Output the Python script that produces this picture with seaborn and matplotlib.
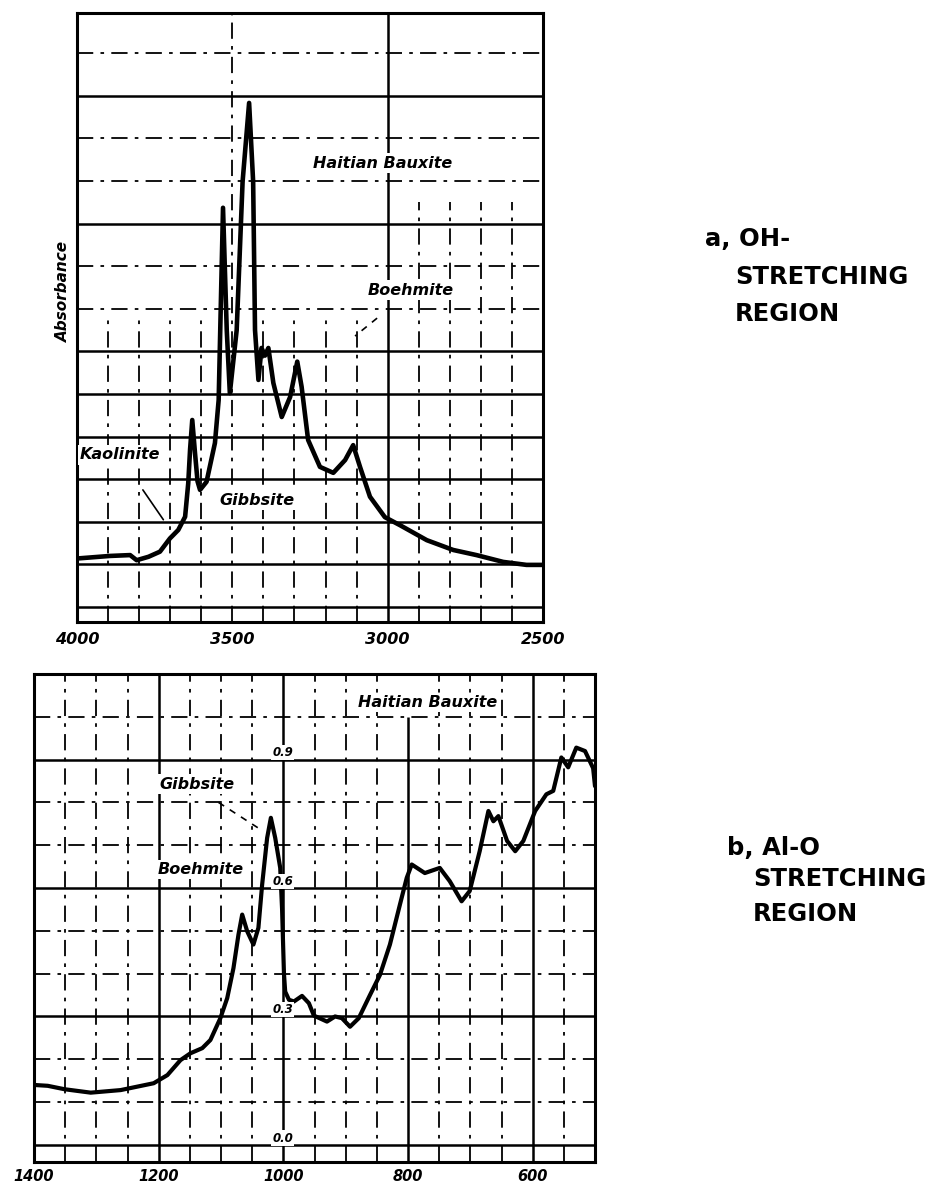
import matplotlib
matplotlib.use("Agg")
import matplotlib.pyplot as plt
from matplotlib import font_manager
import numpy as np
import pandas as pd
import seaborn as sns

# ---- OH-stretching region: wavenumber (cm-1) and absorbance ----
wn_oh = [4000, 3894, 3829, 3808, 3770, 3733, 3701, 3674, 3652, 3642, 3636,
         3629, 3620, 3612, 3604, 3583, 3556, 3544, 3538, 3530, 3518, 3508,
         3486, 3467, 3446, 3433, 3427, 3416, 3406, 3395, 3384, 3368, 3341,
         3314, 3291, 3277, 3256, 3218, 3175, 3137, 3111, 3089, 3057, 3009,
         2960, 2874, 2789, 2714, 2628, 2553, 2500]
abs_oh = [0.114, 0.120, 0.122, 0.110, 0.118, 0.130, 0.161, 0.181, 0.212, 0.290, 0.370,
          0.439, 0.360, 0.295, 0.275, 0.294, 0.385, 0.486, 0.680, 0.937, 0.650, 0.502,
          0.650, 0.998, 1.183, 0.998, 0.650, 0.533, 0.608, 0.590, 0.608, 0.526, 0.446,
          0.493, 0.576, 0.517, 0.392, 0.329, 0.315, 0.345, 0.380, 0.329, 0.259, 0.211,
          0.192, 0.157, 0.134, 0.122, 0.106, 0.099, 0.099]

# ---- Al-O stretching region ----
wn_alo = [1400, 1378, 1351, 1309, 1261, 1208, 1186, 1165, 1149, 1130, 1117,
          1101, 1090, 1080, 1072, 1066, 1058, 1048, 1040, 1034, 1026, 1020,
          1013, 1005, 1002, 999, 997, 991, 983, 970, 959, 951, 930, 917, 906,
          893, 879, 861, 845, 829, 813, 802, 794, 773, 749, 733, 714, 701,
          685, 671, 663, 655, 641, 628, 615, 596, 578, 567, 554, 543, 530,
          516, 503, 500]
abs_alo = [0.140, 0.138, 0.130, 0.122, 0.128, 0.144, 0.163, 0.198, 0.214, 0.226, 0.245,
           0.296, 0.343, 0.413, 0.491, 0.538, 0.499, 0.468, 0.507, 0.608, 0.717, 0.764,
           0.717, 0.647, 0.550, 0.400, 0.358, 0.339, 0.335, 0.348, 0.331, 0.302, 0.288,
           0.300, 0.296, 0.276, 0.296, 0.350, 0.397, 0.468, 0.561, 0.624, 0.655, 0.635,
           0.647, 0.616, 0.569, 0.593, 0.686, 0.780, 0.756, 0.768, 0.710, 0.686, 0.710,
           0.780, 0.819, 0.827, 0.905, 0.882, 0.928, 0.920, 0.880, 0.838]

oh_ticks = [4000, 3500, 3000, 2500]
alo_ticks = [1400, 1200, 1000, 800, 600]
alo_scale_values = [0.0, 0.3, 0.6, 0.9]
alo_scale_text = ["0.0", "0.3", "0.6", "0.9"]

sns.set_style("white")
plt.rcParams["font.family"] = ["DejaVu Sans"]
plt.rcParams["text.color"] = "black"
plt.rcParams["xtick.color"] = "black"
plt.rcParams["xtick.labelcolor"] = "black"
plt.rcParams["axes.edgecolor"] = "black"

installed = {f.name for f in font_manager.fontManager.ttflist}
num_font = "Liberation Sans Narrow" if "Liberation Sans Narrow" in installed else "DejaVu Sans"
num_size_top = 16 if num_font != "DejaVu Sans" else 11.5
num_size_bot = 14 if num_font != "DejaVu Sans" else 10.5

W, H = 935, 1192
fig = plt.figure(figsize=(W / 100, H / 100), dpi=100)
fig.patch.set_facecolor("white")

def px_axes(x0, y0, x1, y1):
    return fig.add_axes([x0 / W, 1 - y1 / H, (x1 - x0) / W, (y1 - y0) / H])

ax1 = px_axes(77, 13, 543, 622)
ax2 = px_axes(34, 674, 595, 1162)

SOLID = dict(color="black", lw=1.8, ls="-", zorder=1)
DASH = dict(color="black", lw=1.3, ls=(0, (9, 4, 2, 4)), zorder=1)

# ---------------- panel a ----------------
ax1.set_xlim(4000, 2500)
ax1.set_ylim(-0.035, 1.394)
for k in range(14):
    y = k / 10
    style = SOLID if (k <= 6 or k in (9, 12)) else DASH
    ax1.axhline(y, **style)
for w in range(2600, 4000, 100):
    if w == 3000:
        ax1.axvline(w, **SOLID)
    elif w == 3500:
        ax1.axvline(w, **DASH)
    elif w < 3000:
        ax1.vlines(w, -0.035, 0.95, **DASH)
    else:
        ax1.vlines(w, -0.035, 0.68, **DASH)

df_oh = pd.DataFrame({"wavenumber": wn_oh, "absorbance": abs_oh})
sns.lineplot(data=df_oh, x="wavenumber", y="absorbance", ax=ax1, color="black",
             linewidth=3.3, estimator=None, sort=False, zorder=3,
             solid_joinstyle="round", solid_capstyle="round")

lab = dict(fontsize=11.5, fontweight="bold", fontstyle="italic", ha="center", va="center",
           color="black", zorder=4, bbox=dict(facecolor="white", edgecolor="none", pad=1.5))
ax1.text(3015, 1.042, "Haitian Bauxite", **lab)
ax1.text(2925, 0.744, "Boehmite", **lab)
ax1.text(3862, 0.357, "Kaolinite", **lab)
ax1.text(3421, 0.251, "Gibbsite", **lab)
ax1.plot([3788, 3722], [0.275, 0.205], color="black", lw=1.2, zorder=4)
ax1.plot([3034, 3105], [0.678, 0.636], color="black", lw=1.2, ls=(0, (4, 4)), zorder=4)

ax1.text(-0.012, 0.542, "Absorbance", rotation=90, transform=ax1.transAxes,
         ha="right", va="center", fontsize=11, fontweight="bold", fontstyle="italic",
         color="black")

ax1.set_xticks(oh_ticks)
ax1.set_xticklabels([str(t) for t in oh_ticks], family=num_font, fontsize=num_size_top,
                    fontweight="bold", fontstyle="italic", color="black")
ax1.set_yticks([])
ax1.tick_params(axis="x", length=0, pad=7)
ax1.set_xlabel("")
ax1.set_ylabel("")

# ---------------- panel b ----------------
ax2.set_xlim(1400, 500)
ax2.set_ylim(-0.04, 1.10)
for k in range(11):
    y = k / 10
    ax2.axhline(y, **(SOLID if k % 3 == 0 else DASH))
for w in range(550, 1400, 50):
    if w in (1200, 1000, 600):
        ax2.axvline(w, **SOLID)
    elif w == 800:
        ax2.vlines(w, -0.04, 1.0, **SOLID)
    else:
        ax2.axvline(w, **DASH)

df_alo = pd.DataFrame({"wavenumber": wn_alo, "absorbance": abs_alo})
sns.lineplot(data=df_alo, x="wavenumber", y="absorbance", ax=ax2, color="black",
             linewidth=3.0, estimator=None, sort=False, zorder=3,
             solid_joinstyle="round", solid_capstyle="round")

ax2.text(768, 1.033, "Haitian Bauxite", **lab)
ax2.text(1138, 0.843, "Gibbsite", **lab)
ax2.text(1133, 0.644, "Boehmite", **lab)
ax2.plot([1104, 1040], [0.80, 0.74], color="black", lw=1.2, ls=(0, (4, 4)), zorder=4)

for v, t in zip(alo_scale_values, alo_scale_text):
    ax2.text(1001, v + 0.016, t, ha="center", va="center", fontsize=8.5,
             fontweight="bold", fontstyle="italic", color="black", zorder=4,
             bbox=dict(facecolor="white", edgecolor="none", pad=0.8))

ax2.set_xticks(alo_ticks)
ax2.set_xticklabels([str(t) for t in alo_ticks], family=num_font, fontsize=num_size_bot,
                    fontweight="bold", fontstyle="italic", color="black")
ax2.set_yticks([])
ax2.tick_params(axis="x", length=0, pad=5)
ax2.set_xlabel("")
ax2.set_ylabel("")

for ax in (ax1, ax2):
    for s in ax.spines.values():
        s.set_visible(True)
        s.set_color("black")
        s.set_linewidth(2.2)

# ---------------- side captions ----------------
cap = dict(fontsize=17.5, fontweight="bold", ha="left", va="center", color="black")
fig.text(705 / W, 1 - 239 / H, "a, OH-", **cap)
fig.text(735 / W, 1 - 277 / H, "STRETCHING", **cap)
fig.text(735 / W, 1 - 314 / H, "REGION", **cap)
fig.text(727 / W, 1 - 848 / H, "b, Al-O", **cap)
fig.text(753 / W, 1 - 879 / H, "STRETCHING", **cap)
fig.text(753 / W, 1 - 914 / H, "REGION", **cap)

fig.savefig("out.png", dpi=100, facecolor="white")
